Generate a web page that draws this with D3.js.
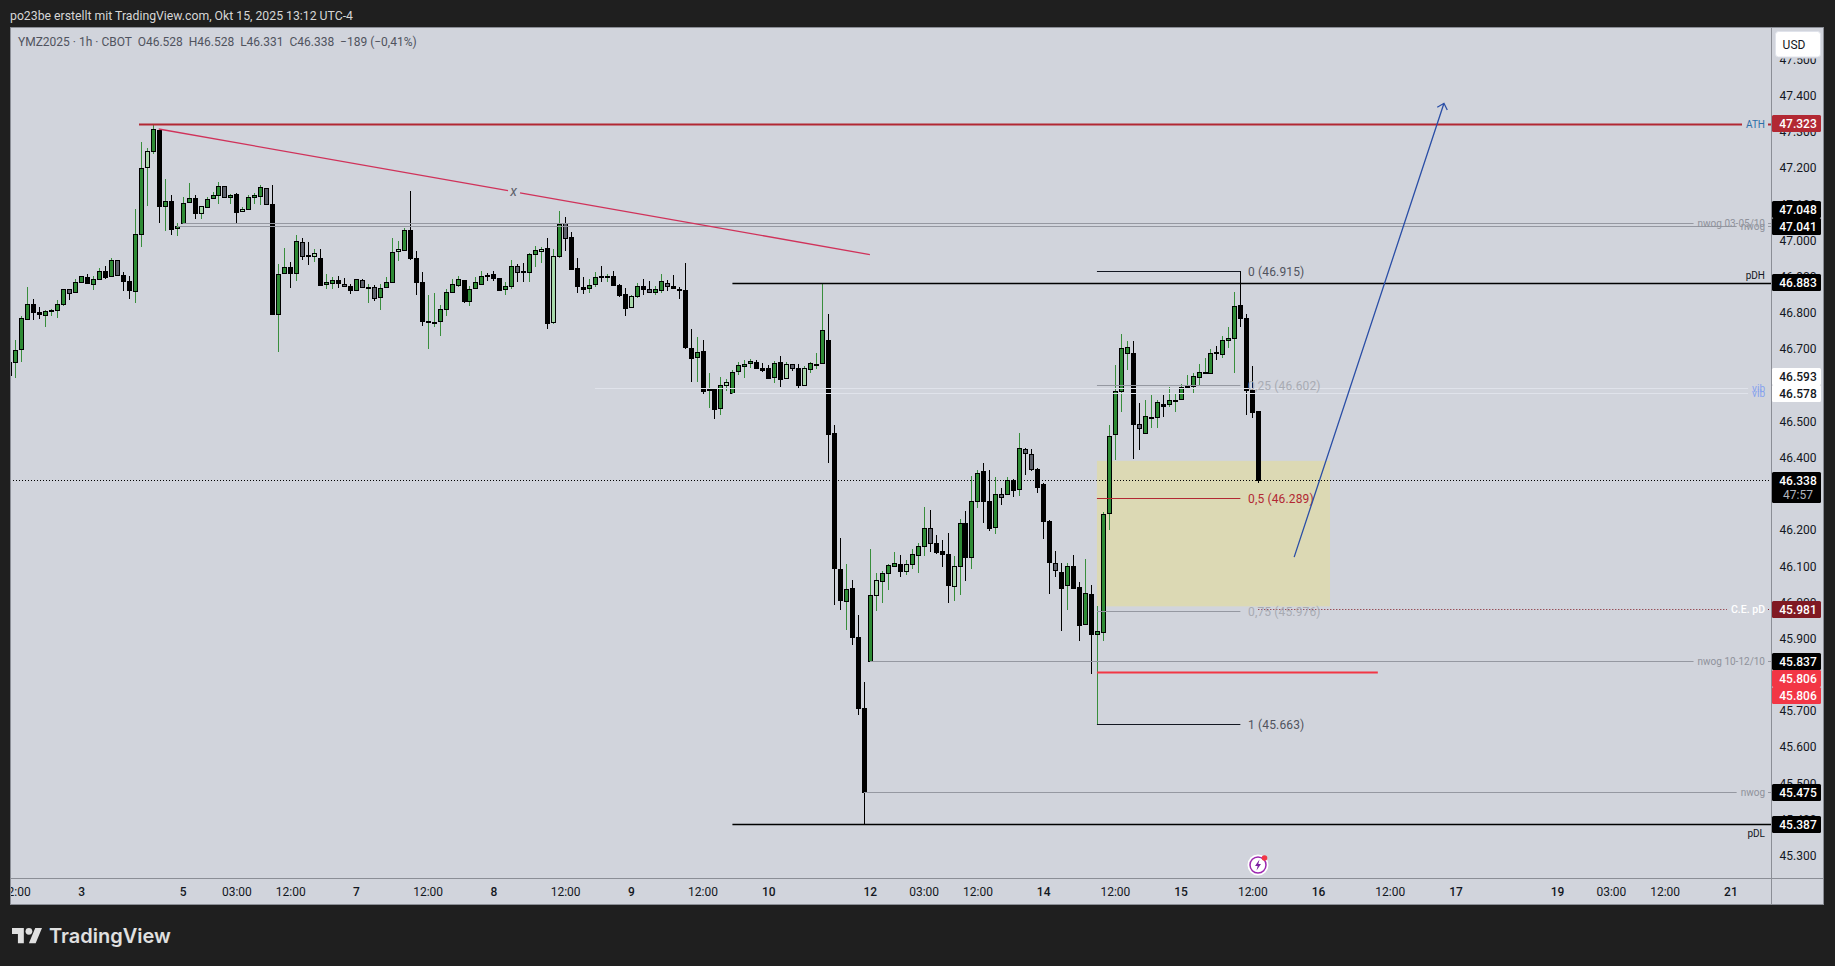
<!DOCTYPE html>
<html><head><meta charset="utf-8">
<script src="https://cdn.jsdelivr.net/npm/d3@7/dist/d3.min.js"></script>
<style>html,body{margin:0;padding:0;background:#1f1f1f;overflow:hidden}svg{display:block}text{font-family:Roboto,"Noto Sans",sans-serif}</style>
</head><body>
<script>
const titleText = "po23be erstellt mit TradingView.com, Okt 15, 2025 13:12 UTC-4";
const legendText = "YMZ2025 · 1h · CBOT  O46.528  H46.528  L46.331  C46.338  −189 (−0,41%)";

const highs = [46.664,
46.725,46.790,46.871,46.838,46.816,46.807,46.812,46.836,46.867,46.865,
46.893,46.902,46.908,46.902,46.924,46.930,46.952,46.945,46.913,46.901,
47.087,47.272,47.255,47.322,47.306,47.169,47.125,47.049,47.119,47.159,
47.125,47.094,47.119,47.133,47.161,47.150,47.129,47.131,47.092,47.125,
47.130,47.152,47.144,47.153,46.934,46.978,46.940,47.015,47.007,46.995,
46.976,46.977,46.907,46.898,46.901,46.896,46.879,46.893,46.893,46.881,
46.876,46.879,46.900,47.007,46.999,47.034,47.136,46.970,46.912,46.850,
46.854,46.822,46.867,46.893,46.901,46.891,46.874,46.898,46.915,46.909,
46.916,46.896,46.885,46.945,46.934,46.937,46.966,46.985,46.981,47.006,
46.976,47.081,47.064,47.023,46.951,46.898,46.893,46.912,46.929,46.907,
46.915,46.879,46.868,46.848,46.882,46.893,46.887,46.873,46.907,46.890,
46.904,46.871,46.937,46.755,46.733,46.724,46.633,46.592,46.622,46.617,
46.641,46.665,46.669,46.673,46.669,46.661,46.655,46.666,46.680,46.663,
46.658,46.658,46.653,46.664,46.689,46.882,46.796,46.490,46.177,46.106,
46.061,45.966,45.780,46.148,46.082,46.086,46.106,46.139,46.131,46.117,
46.148,46.163,46.263,46.256,46.187,46.173,46.191,46.128,46.231,46.252,
46.349,46.365,46.384,46.366,46.346,46.315,46.346,46.340,46.468,46.426,
46.423,46.371,46.329,46.227,46.141,46.108,46.108,46.131,46.056,46.120,
46.047,45.990,46.249,46.490,46.656,46.742,46.722,46.722,46.550,46.559,
46.572,46.559,46.572,46.595,46.575,46.603,46.628,46.633,46.659,46.675,
46.699,46.707,46.736,46.760,46.857,46.915,46.797,46.653,46.528];

const bodyTops = [46.664,
46.697,46.785,46.824,46.824,46.802,46.804,46.807,46.824,46.865,46.865,
46.885,46.901,46.898,46.893,46.915,46.915,46.945,46.945,46.904,46.887,
47.017,47.199,47.246,47.307,47.306,47.108,47.108,47.039,47.103,47.117,
47.117,47.094,47.114,47.125,47.150,47.150,47.125,47.128,47.086,47.119,
47.125,47.147,47.144,47.100,46.908,46.926,46.926,46.998,46.995,46.959,
46.965,46.951,46.885,46.890,46.890,46.879,46.873,46.893,46.890,46.872,
46.871,46.868,46.885,46.967,46.976,47.028,47.028,46.951,46.885,46.777,
46.775,46.810,46.857,46.879,46.893,46.890,46.865,46.885,46.901,46.904,
46.907,46.896,46.873,46.929,46.929,46.915,46.962,46.973,46.976,46.978,
46.956,47.045,47.048,47.009,46.923,46.871,46.876,46.898,46.901,46.901,
46.901,46.876,46.851,46.846,46.873,46.873,46.865,46.865,46.887,46.882,
46.873,46.865,46.862,46.702,46.691,46.694,46.589,46.589,46.600,46.608,
46.636,46.655,46.658,46.666,46.664,46.647,46.647,46.661,46.664,46.658,
46.658,46.647,46.647,46.661,46.659,46.752,46.724,46.467,46.092,46.036,
46.039,45.904,45.708,46.020,46.061,46.081,46.103,46.108,46.105,46.105,
46.133,46.155,46.205,46.205,46.163,46.141,46.133,46.100,46.219,46.219,
46.280,46.357,46.362,46.280,46.299,46.299,46.338,46.338,46.426,46.423,
46.409,46.368,46.326,46.224,46.110,46.083,46.100,46.100,46.042,46.025,
46.023,45.922,46.244,46.459,46.583,46.702,46.705,46.688,46.492,46.514,
46.512,46.553,46.547,46.559,46.559,46.595,46.598,46.625,46.636,46.636,
46.688,46.691,46.724,46.730,46.818,46.821,46.785,46.588,46.528];

const bodyBottoms = [46.627,
46.663,46.699,46.782,46.802,46.798,46.793,46.804,46.807,46.824,46.854,
46.857,46.885,46.882,46.879,46.893,46.898,46.901,46.904,46.887,46.862,
46.860,47.017,47.202,47.246,47.094,47.094,47.033,47.034,47.048,47.105,
47.077,47.077,47.092,47.117,47.125,47.119,47.119,47.080,47.081,47.086,
47.119,47.122,47.100,46.796,46.796,46.909,46.909,46.909,46.956,46.956,
46.956,46.878,46.879,46.882,46.882,46.873,46.862,46.862,46.871,46.870,
46.840,46.843,46.871,46.885,46.970,46.973,46.951,46.886,46.777,46.776,
46.773,46.777,46.810,46.857,46.876,46.834,46.834,46.868,46.881,46.901,
46.895,46.862,46.865,46.873,46.912,46.912,46.912,46.962,46.970,46.773,
46.776,46.956,47.006,46.922,46.875,46.865,46.868,46.879,46.900,46.900,
46.878,46.850,46.813,46.815,46.846,46.865,46.857,46.857,46.862,46.873,
46.868,46.862,46.705,46.675,46.677,46.583,46.586,46.534,46.536,46.600,
46.578,46.639,46.652,46.661,46.647,46.641,46.619,46.622,46.616,46.619,
46.647,46.600,46.600,46.644,46.657,46.661,46.464,46.094,46.007,46.005,
45.904,45.708,45.475,45.837,46.019,46.058,46.081,46.100,46.086,46.086,
46.105,46.130,46.155,46.165,46.140,46.133,46.047,46.045,46.100,46.125,
46.125,46.281,46.280,46.205,46.208,46.291,46.299,46.310,46.313,46.412,
46.368,46.318,46.224,46.111,46.089,46.041,46.047,46.041,45.937,45.940,
45.912,45.912,45.918,46.246,46.465,46.583,46.688,46.492,46.481,46.467,
46.510,46.512,46.542,46.547,46.558,46.561,46.596,46.597,46.622,46.634,
46.633,46.690,46.686,46.724,46.730,46.785,46.588,46.525,46.338];

const lows = [46.627,
46.621,46.665,46.782,46.779,46.783,46.762,46.792,46.787,46.820,46.836,
46.857,46.885,46.882,46.864,46.893,46.893,46.898,46.904,46.859,46.837,
46.826,46.982,47.095,47.240,47.049,47.027,47.015,47.012,47.048,47.103,
47.060,47.060,47.089,47.117,47.102,47.119,47.102,47.049,47.081,47.083,
47.102,47.099,47.100,46.796,46.693,46.909,46.870,46.887,46.947,46.931,
46.940,46.875,46.865,46.867,46.868,46.872,46.852,46.862,46.869,46.828,
46.834,46.809,46.871,46.885,46.943,46.970,46.946,46.848,46.765,46.701,
46.762,46.737,46.790,46.857,46.872,46.828,46.820,46.868,46.877,46.887,
46.889,46.859,46.850,46.866,46.884,46.884,46.884,46.927,46.939,46.754,
46.770,46.951,46.972,46.917,46.856,46.853,46.856,46.871,46.884,46.885,
46.873,46.845,46.792,46.813,46.842,46.848,46.857,46.848,46.856,46.860,
46.868,46.837,46.699,46.608,46.608,46.577,46.538,46.508,46.519,46.585,
46.578,46.628,46.620,46.647,46.644,46.636,46.619,46.607,46.596,46.616,
46.638,46.591,46.600,46.635,46.646,46.661,46.386,45.994,45.979,45.924,
45.883,45.689,45.387,45.837,45.977,45.997,46.033,46.100,46.069,46.076,
46.093,46.082,46.129,46.140,46.134,46.099,45.999,46.005,46.019,46.058,
46.091,46.262,46.218,46.196,46.190,46.270,46.299,46.292,46.295,46.353,
46.364,46.301,46.176,46.022,46.069,45.922,45.980,46.038,45.892,45.940,
45.801,45.663,45.892,46.200,46.394,46.527,46.642,46.397,46.421,46.467,
46.481,46.483,46.513,46.541,46.526,46.558,46.590,46.576,46.601,46.633,
46.633,46.670,46.674,46.704,46.635,46.760,46.518,46.509,46.331];

// g = green, l = pale green, k = black, s = slate
const candleKinds = ("k"+
"gggkkggggs"+"ggkggkgskk"+"gglgkgkggg"+"klgggsgklg"+"ggskggkgsk"+
"lkggkskgsg"+"sggglgkkkg"+"gggggkgggk"+"kkggskgglk"+"lgskkkggkg"+
"kkklgksggs"+"kkkkgkgkgl"+"ggggkkkgkl"+"sklgggkkkg"+"kkkglgggkl"+
"gggskkklgk"+"ggkkgsgkgs"+"skkkskgkkg"+"kggggggksg"+"ggkggggggg"+
"gkgggkkkk").split("");

const priceTicks = [47.5,47.4,47.3,47.2,47.1,47.0,46.9,46.8,46.7,46.6,46.5,46.4,46.3,46.2,46.1,46.0,45.9,45.8,45.7,45.6,45.5,45.4,45.3];
const timeTickBars = [0,11,28,37,46,57,69,80,92,103,115,126,143,152,161,172,184,195,207,218,230,241,258,267,276,287];
const timeTickLabels = ["12:00","3","5","03:00","12:00","7","12:00","8","12:00","9","12:00","10","12","03:00","12:00","14","12:00","15","12:00","16","12:00","17","19","03:00","12:00","21"];

// horizontal levels
const levelNames  = ["ATH","nwog 03-05/10","nwog","pDH","vib","vib","C.E. pD","nwog 10-12/10","nwog","pDL"];
const levelPrices = [47.323,47.048,47.041,46.883,46.593,46.578,45.981,45.837,45.475,45.387];
const levelStarts = [20.7,28,27,120,97,120,208,143,142,120];

const fibRatios = ["0","0,25","0,5","0,75","1"];
const fibPrices = [46.915,46.602,46.289,45.976,45.663];

const badgePrices = ["47.323","47.048","47.041","46.883","46.593","46.578","46.338","45.981","45.837","45.806","45.806","45.475","45.387"];
const countdownText = "47:57";
const lastPrice = 46.338;
const zonePrices = [46.391,45.989], zoneBars = [181,220];
const trendPrices = [47.308,46.961], trendBars = [24,143];
const arrowPrices = [46.125,47.379], arrowBars = [214,239.07];
const supportPrice = 45.806, supportBars = [181,228];

/* ---------- layout & style ---------- */
const W=1835,H=966, L=10,T=27,R=1824,B=905, AX=1771, TB=878;
const panel="#d1d4dc", dark="#1f1f1f";
const bodyFill={g:"#2e8b35",l:"#a8d8aa",k:"#000",s:"#5d606b"};
const wickFill={g:"#388e3c",l:"#388e3c",k:"#000",s:"#000"};
const levelColor={"ATH":"#b22833","pDH":"#000","pDL":"#000","vib":"#e0e3eb","C.E. pD":"#801922"};
const labelColor={"ATH":"#2e6fa8","pDH":"#131722","pDL":"#131722","vib":"#86a2ee","C.E. pD":"#ffffff"};
const levelWidth={"ATH":2,"pDH":1.5,"pDL":1.5};
const fibColor=["#131722","#9598a1","#b22833","#9598a1","#131722"];
const fibText=["#50535e","#a8abb3","#b22833","#a8abb3","#50535e"];
const badgeFill={"47.323":"#b22833","46.593":"#fff","46.578":"#fff","45.981":"#801922","45.806":"#f23645"};
const badgeOffset=[0,-14,1,0,-11,0,0,0,0,6,23,0,0];

const x=d3.scaleLinear().domain([-1,208]).range([9.33,1258.3]);
const y=d3.scaleLinear().domain([47.4,45.3]).range([95.7,855.7]);
const crisp=v=>Math.round(v)+0.5;

const svg=d3.select("body").append("svg").attr("width",W).attr("height",H);
svg.append("rect").attr("width",W).attr("height",H).attr("fill",dark);
svg.append("text").text(titleText).attr("x",10).attr("y",19.5).attr("fill","#d6d6d6").attr("font-size",12.25);
svg.append("rect").attr("x",L+.5).attr("y",T+.5).attr("width",R-L-1).attr("height",B-T-1).attr("fill",panel).attr("stroke","#8b8e96");
svg.append("clipPath").attr("id","pane").append("rect").attr("x",L+1).attr("y",T+1).attr("width",AX-L-1).attr("height",TB-T-1);
svg.append("clipPath").attr("id","priceClip").append("rect").attr("x",AX).attr("y",T+1).attr("width",R-AX-1).attr("height",TB-T-1);

/* axes */
const yAxis=d3.axisRight(y).tickValues(priceTicks).tickSize(0).tickPadding(0).tickFormat(d3.format(".3f"));
const yG=svg.append("g").attr("clip-path","url(#priceClip)").append("g").attr("transform",`translate(1798,0)`).call(yAxis);
yG.select(".domain").remove();
yG.selectAll("text").attr("text-anchor","middle").attr("font-size",12).attr("fill","#131722").attr("style","font-family:Roboto");
const xAxis=d3.axisBottom(x).tickValues(timeTickBars).tickSize(0).tickPadding(0).tickFormat((d,i)=>timeTickLabels[i]);
const xG=svg.append("g").attr("clip-path","url(#pane2)").append("g").attr("transform",`translate(0,${TB+9})`).call(xAxis);
svg.append("clipPath").attr("id","pane2").append("rect").attr("x",L+1).attr("y",TB).attr("width",AX-L-1).attr("height",B-TB);
xG.select(".domain").remove();
xG.selectAll("text").attr("font-size",12).attr("fill","#131722").attr("style","font-family:Roboto")
  .attr("font-weight",(d,i)=>/:/.test(timeTickLabels[i])?400:500);
svg.append("line").attr("x1",AX+.5).attr("x2",AX+.5).attr("y1",T).attr("y2",B).attr("stroke","#8b8e96");
svg.append("line").attr("x1",L).attr("x2",R).attr("y1",TB+.5).attr("y2",TB+.5).attr("stroke","#8b8e96");

const pane=svg.append("g").attr("clip-path","url(#pane)");

/* zone under candles */
pane.append("rect").attr("x",x(zoneBars[0])).attr("width",x(zoneBars[1])-x(zoneBars[0]))
  .attr("y",y(zonePrices[0])).attr("height",y(zonePrices[1])-y(zonePrices[0])).attr("fill","#dcd9b4");
/* last price dotted */
pane.append("line").attr("x1",L).attr("x2",AX).attr("y1",crisp(y(lastPrice))).attr("y2",crisp(y(lastPrice)))
  .attr("stroke","#000").attr("stroke-dasharray","1 2");

/* candles */
const bars=d3.range(highs.length).map(i=>({i:i-1,h:highs[i],t:bodyTops[i],b:bodyBottoms[i],l:lows[i],k:candleKinds[i]}));
const cg=pane.selectAll("g.c").data(bars).join("g").attr("class","c");
cg.append("rect").attr("x",d=>Math.round(x(d.i))).attr("width",1)
  .attr("y",d=>Math.round(y(d.h))).attr("height",d=>Math.max(1,Math.round(y(d.l))-Math.round(y(d.h))))
  .attr("fill",d=>wickFill[d.k]);
cg.append("rect").attr("x",d=>Math.round(x(d.i))-1.5).attr("width",4)
  .attr("y",d=>crisp(y(d.t))).attr("height",d=>Math.max(1,Math.round(y(d.b))-Math.round(y(d.t))))
  .attr("fill",d=>bodyFill[d.k]).attr("stroke","#000").attr("stroke-width",1);

/* levels */
const LABEL_R=1765;
levelNames.forEach((name,i)=>{
  const key=name.startsWith("nwog")?"nwog":name, py=crisp(y(levelPrices[i]));
  const stroke=levelColor[key]||"#9598a1", col=labelColor[key]||"#8f929b", w=levelWidth[key]||1;
  const dash=key==="C.E. pD"?"1 2":null;
  const above=key==="pDH", below=key==="pDL";
  const tx=pane.append("text").text(name).attr("x",LABEL_R).attr("text-anchor","end").attr("fill",col)
    .attr("font-size",key==="C.E. pD"?10.5:10)
    .attr("font-weight",key==="C.E. pD"?500:400)
    .attr("y",above?py-5:below?py+12:py+3.7);
  const tw=tx.node().getComputedTextLength();
  const x1=x(levelStarts[i]);
  const seg=(a,b)=>pane.insert("line","text").attr("x1",a).attr("x2",b).attr("y1",py).attr("y2",py).attr("stroke",stroke).attr("stroke-width",w).attr("stroke-dasharray",dash);
  if(above||below) seg(x1,AX);
  else { seg(x1,LABEL_R-tw-4); if(key!=="vib") seg(LABEL_R+3,AX); }
});

/* trend line with x label */
const tx0=x(trendBars[0]),ty0=y(trendPrices[0]),tx1=x(trendBars[1]),ty1=y(trendPrices[1]);
const trendLine=d3.line();
const gapA=(508-tx0)/(tx1-tx0),gapB=(520-tx0)/(tx1-tx0);
[[0,gapA],[gapB,1]].forEach(([a,b])=>{
  pane.append("path").attr("d",trendLine([[tx0+a*(tx1-tx0),ty0+a*(ty1-ty0)],[tx0+b*(tx1-tx0),ty0+b*(ty1-ty0)]]))
    .attr("stroke","#d0325a").attr("stroke-width",1.3).attr("fill","none");
});
pane.append("text").text("x").attr("x",513.5).attr("y",196).attr("text-anchor","middle").attr("font-size",14).attr("font-style","italic").attr("fill","#5d606b");

/* fib */
fibPrices.forEach((p,i)=>{
  const py=crisp(y(p));
  pane.append("line").attr("x1",x(181)).attr("x2",x(205)).attr("y1",py).attr("y2",py).attr("stroke",fibColor[i]);
  pane.append("text").text(`${fibRatios[i]} (${p.toFixed(3)})`).attr("x",1248).attr("y",py+4.3).attr("font-size",12).attr("fill",fibText[i]).attr("letter-spacing",.15);
});

/* support line */
pane.append("line").attr("x1",x(supportBars[0])).attr("x2",x(supportBars[1])).attr("y1",y(supportPrice)).attr("y2",y(supportPrice)).attr("stroke","#f23645").attr("stroke-width",2);

/* arrow */
const ax0=x(arrowBars[0]),ay0=y(arrowPrices[0]),ax1=x(arrowBars[1]),ay1=y(arrowPrices[1]);
pane.append("path").attr("d",`M${ax0},${ay0}L${ax1},${ay1}M${ax1-6.7},${ay1+4}L${ax1},${ay1}L${ax1+3.3},${ay1+6.7}`)
  .attr("fill","none").attr("stroke","#2a4ea6").attr("stroke-width",1.3);

/* legend */
svg.append("text").text(legendText).attr("x",18).attr("y",45.5).attr("fill","#50535e").attr("font-size",12).style("white-space","pre");

/* USD button */
svg.append("rect").attr("x",AX+1).attr("y",T+1).attr("width",R-AX-2).attr("height",30).attr("fill",panel);
svg.append("rect").attr("x",1775.5).attr("y",31.5).attr("width",45).attr("height",25.5).attr("rx",3).attr("fill","#fff").attr("stroke","#e0e3eb");
svg.append("rect").attr("x",AX+1).attr("y",57.5).attr("width",R-AX-2).attr("height",1).attr("fill",panel);
svg.append("text").text("USD").attr("x",1794).attr("y",48.5).attr("text-anchor","middle").attr("font-size",12).attr("fill","#131722");

/* badges */
badgePrices.forEach((t,i)=>{
  const cy=y(+t)+badgeOffset[i], isLast=+t===lastPrice;
  const fill=badgeFill[t]||"#000", txt=fill==="#fff"?"#131722":"#fff";
  const top=Math.round(cy-8.5);
  svg.append("rect").attr("x",AX+1).attr("y",top).attr("width",49).attr("height",isLast?31:17).attr("rx",1.5).attr("fill",fill);
  svg.append("text").text(t).attr("x",1798).attr("y",top+13).attr("text-anchor","middle").attr("font-size",12).attr("font-weight",500).attr("fill",txt);
  if(isLast) svg.append("text").text(countdownText).attr("x",1798).attr("y",top+27).attr("text-anchor","middle").attr("font-size",12).attr("fill","#b2b5be");
});

/* lightning icon */
const ic=svg.append("g").attr("transform","translate(1258,865)");
ic.append("circle").attr("r",10.5).attr("fill","#fff");
ic.append("circle").attr("r",8).attr("fill","none").attr("stroke","#9c27b0").attr("stroke-width",1.5);
ic.append("path").attr("d","M1.5,-5.5L-3,1L-.3,1L-1.5,5.5L3,-1L.3,-1Z").attr("fill","#7b1fa2");
ic.append("circle").attr("cx",6.5).attr("cy",-7).attr("r",2.8).attr("fill","#f23645");

/* logo */
const lg=svg.append("g").attr("transform","translate(12,924.6) scale(0.845)");
lg.append("path").attr("d","M14 22H7V11H0V4h14v18zM28 22h-8l7.5-18h8L28 22z").attr("fill","#e0e0e0");
lg.append("circle").attr("cx",20).attr("cy",8).attr("r",4).attr("fill","#e0e0e0");
svg.append("text").text("TradingView").attr("x",49).attr("y",942.5).attr("fill","#e0e0e0").attr("font-size",20).attr("font-weight",600).style("font-family","Inter");
</script>
</body></html>
